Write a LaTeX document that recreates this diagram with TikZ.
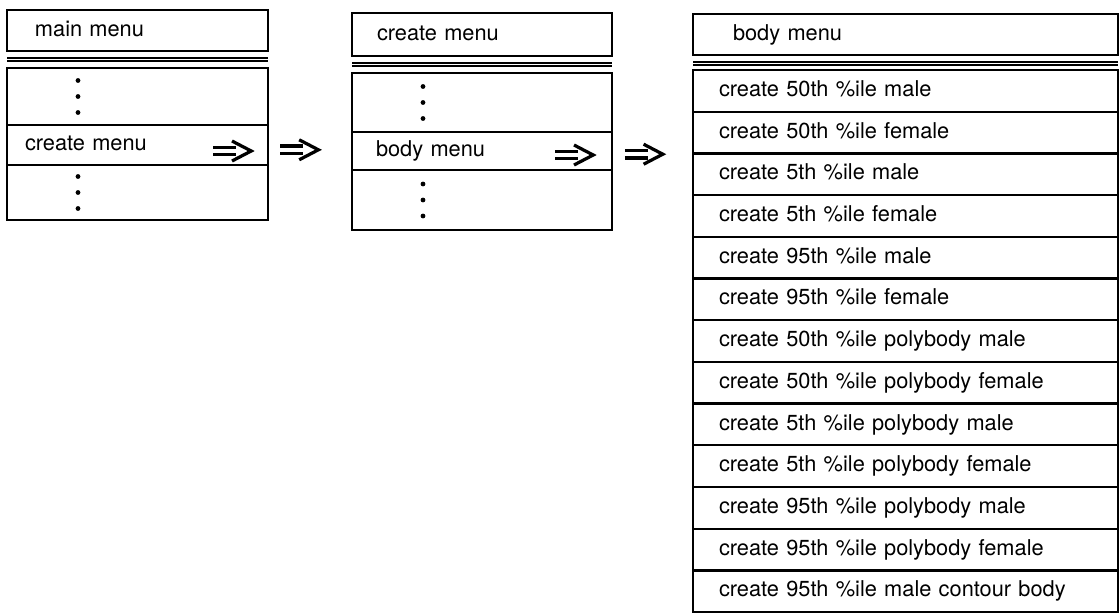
\documentclass[tikz,border=0pt]{standalone}
\usepackage{fontspec}
\setmainfont{TeX Gyre Heros}
\usetikzlibrary{positioning}

\tikzset{
  box/.style={draw, line width=1.6pt, anchor=north west, align=left, outer sep=0pt,
    inner ysep=0pt, text height=11pt, text depth=3pt, font=\fontsize{15.5}{18}\selectfont},
  mainrow/.style={box, inner xsep=0.45cm, text width=5.625cm, minimum height=#1},
  createrow/.style={box, inner xsep=0.6cm, text width=5.3cm, minimum height=#1},
  bodyrow/.style={box, inner xsep=0.65cm, text width=9.325cm, minimum height=1.0425cm},
  sep/.style={double, line width=1.4pt, double distance=1.1pt},
  imply/.pic={
    \draw[line width=2.6pt] (-0.95,0.09) -- (-0.38,0.09) (-0.95,-0.09) -- (-0.38,-0.09);
    \draw[line width=2.3pt, line join=miter] (-0.48,0.25) -- (0,0) -- (-0.48,-0.25);
  }
}

\begin{document}
\begin{tikzpicture}
\useasboundingbox (0,0) rectangle (28,-15.35);

% main menu
\node[box, inner xsep=0.7cm, text width=5.125cm, minimum height=1.025cm] (mt) at (0.175,-0.25) {main menu};
\draw[sep] ([yshift=-0.21cm]mt.south west) -- ([yshift=-0.21cm]mt.south east);
\node[mainrow=1.425cm] (m1) at (0.175,-1.7) {};
\node[mainrow=1.0cm, below=0pt of m1] (m2) {create menu};
\node[mainrow=1.375cm, below=0pt of m2] (m3) {};

% create menu
\node[box, inner xsep=0.625cm, text width=5.25cm, minimum height=1.075cm] (ct) at (8.8,-0.325) {create menu};
\draw[sep] ([yshift=-0.21cm]ct.south west) -- ([yshift=-0.21cm]ct.south east);
\node[createrow=1.475cm] (c1) at (8.8,-1.825) {};
\node[createrow=0.95cm, below=0pt of c1] (c2) {body menu};
\node[createrow=1.5cm, below=0pt of c2] (c3) {};

% body menu
\node[box, inner xsep=1.0cm, text width=8.625cm, minimum height=1.025cm] (bt) at (17.325,-0.35) {body menu};
\draw[sep] ([yshift=-0.21cm]bt.south west) -- ([yshift=-0.21cm]bt.south east);
\node[bodyrow] (b1) at (17.325,-1.75) {create 50th \%ile male};
\node[bodyrow, below=0pt of b1] (b2) {create 50th \%ile female};
\node[bodyrow, below=0pt of b2] (b3) {create 5th \%ile male};
\node[bodyrow, below=0pt of b3] (b4) {create 5th \%ile female};
\node[bodyrow, below=0pt of b4] (b5) {create 95th \%ile male};
\node[bodyrow, below=0pt of b5] (b6) {create 95th \%ile female};
\node[bodyrow, below=0pt of b6] (b7) {create 50th \%ile polybody male};
\node[bodyrow, below=0pt of b7] (b8) {create 50th \%ile polybody female};
\node[bodyrow, below=0pt of b8] (b9) {create 5th \%ile polybody male};
\node[bodyrow, below=0pt of b9] (b10) {create 5th \%ile polybody female};
\node[bodyrow, below=0pt of b10] (b11) {create 95th \%ile polybody male};
\node[bodyrow, below=0pt of b11] (b12) {create 95th \%ile polybody female};
\node[bodyrow, below=0pt of b12] (b13) {create 95th \%ile male contour body};

% dots and arrows
\foreach \n in {m1,m3,c1,c3}
  \foreach \d in {-0.4,0,0.4}
    \fill ([xshift=1.775cm,yshift=\d cm]\n.west) circle (0.06cm);
\pic at ([xshift=-0.42cm,yshift=-0.15cm]m2.east) {imply};
\pic at ([xshift=1.26cm,yshift=-0.12cm]m2.east) {imply};
\pic at ([xshift=-0.47cm,yshift=-0.1cm]c2.east) {imply};
\pic at ([xshift=1.27cm,yshift=-0.08cm]c2.east) {imply};
\end{tikzpicture}
\end{document}
